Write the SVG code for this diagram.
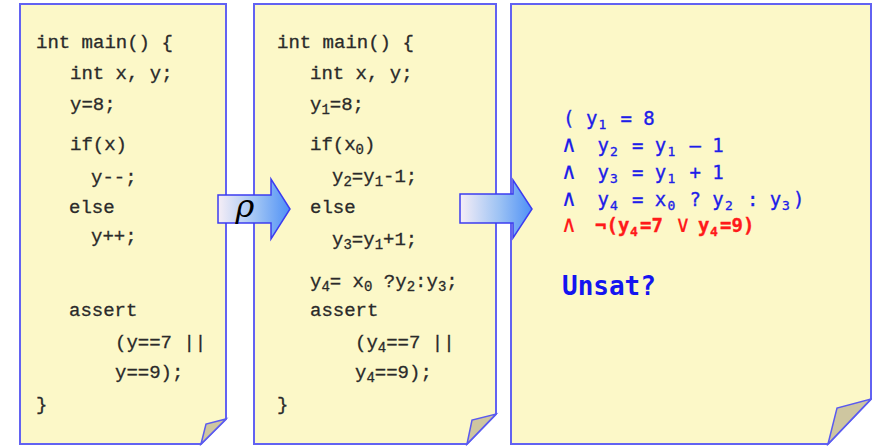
<svg xmlns="http://www.w3.org/2000/svg" width="872" height="446" viewBox="0 0 872 446">
  <style>
    .page { fill: #fcf8c8; stroke: #6262f2; stroke-width: 2; stroke-linejoin: miter; }
    .fold { fill: #cec6a0; stroke: #5a5af0; stroke-width: 1.5; stroke-linejoin: miter; }
    .code { font-family: "Liberation Mono", "DejaVu Sans Mono", monospace; font-size: 19px; fill: #2a2a2a; stroke: #2a2a2a; stroke-width: 0.3; }
    .sub { font-size: 14px; }
    .smt { font-family: "DejaVu Sans Mono", "Liberation Mono", monospace; font-size: 19px; fill: #1e1ee8; stroke: #1e1ee8; stroke-width: 0.35; }
    .s { font-size: 13px; }
    .and { font-size: 23px; stroke-width: 0.15; }
    .neg { fill: #ff1a1a; stroke: #ff1a1a; }
    .bold { font-weight: bold; }
    .unsat { font-family: "DejaVu Sans Mono", monospace; font-size: 26px; font-weight: bold; fill: #1414f0; }
    .arrow { fill: url(#arrowFill); stroke: #3c3cf0; stroke-width: 1.5; stroke-linejoin: miter; }
    .rho { font-family: "DejaVu Serif", "Liberation Serif", serif; font-style: italic; font-size: 32px; fill: #000; }
  </style>
  <defs>
    <linearGradient id="arrowFill" x1="0" y1="0" x2="1" y2="0">
      <stop offset="0" stop-color="#f6eef6"/>
      <stop offset="0.55" stop-color="#9cc2f4"/>
      <stop offset="1" stop-color="#4e90f6"/>
    </linearGradient>
  </defs>

  <!-- original C program -->
  <g id="source-program">
    <path class="page" d="M20,4 H226 V419 L201,444 H20 Z"/>
    <path class="fold" d="M201,444 L206,424 L226,419 Z"/>
    <g class="code">
      <text x="36" y="48">int main() {</text>
      <text x="70" y="79">int x, y;</text>
      <text x="70" y="110">y=8;</text>
      <text x="70" y="150">if(x)</text>
      <text x="91" y="183">y--;</text>
      <text x="69" y="213">else</text>
      <text x="91" y="242">y++;</text>
      <text x="69" y="316">assert</text>
      <text x="115" y="348">(y==7 ||</text>
      <text x="115" y="378">y==9);</text>
      <text x="36" y="410">}</text>
    </g>
  </g>

  <!-- SSA form of the program -->
  <g id="ssa-program">
    <path class="page" d="M254,4 H496 V414 L467,444 H254 Z"/>
    <path class="fold" d="M467,444 L472,420 L496,414 Z"/>
    <g class="code">
      <text x="277" y="48">int main() {</text>
      <text x="310" y="79">int x, y;</text>
      <text x="310" y="110">y<tspan class="sub" dy="4">1</tspan><tspan dy="-4">=8;</tspan></text>
      <text x="310" y="150">if(x<tspan class="sub" dy="4">0</tspan><tspan dy="-4">)</tspan></text>
      <text x="332" y="182">y<tspan class="sub" dy="4">2</tspan><tspan dy="-4">=y</tspan><tspan class="sub" dy="4">1</tspan><tspan dy="-4">-1;</tspan></text>
      <text x="310" y="213">else</text>
      <text x="332" y="245">y<tspan class="sub" dy="4">3</tspan><tspan dy="-4">=y</tspan><tspan class="sub" dy="4">1</tspan><tspan dy="-4">+1;</tspan></text>
      <text x="310" y="287">y<tspan class="sub" dy="4">4</tspan><tspan dy="-4">= x</tspan><tspan class="sub" dy="4">0</tspan><tspan dy="-4"> ?y</tspan><tspan class="sub" dy="4">2</tspan><tspan dy="-4">:y</tspan><tspan class="sub" dy="4">3</tspan><tspan dy="-4">;</tspan></text>
      <text x="310" y="316">assert</text>
      <text x="355" y="348">(y<tspan class="sub" dy="4">4</tspan><tspan dy="-4">==7 ||</tspan></text>
      <text x="355" y="378">y<tspan class="sub" dy="4">4</tspan><tspan dy="-4">==9);</tspan></text>
      <text x="277" y="410">}</text>
    </g>
  </g>

  <!-- verification condition: one monospace cell = 11.5px -->
  <g id="formula">
    <path class="page" d="M511,4 H871 V399 L828,444 H511 Z"/>
    <path class="fold" d="M828,444 L837,408 L871,399 Z"/>
    <text class="smt" y="125" xml:space="preserve"><tspan x="563">( y</tspan><tspan class="s" x="598.5" dy="4">1</tspan><tspan x="609" dy="-4"> = 8</tspan></text>
    <text class="smt" y="152" xml:space="preserve"><tspan class="and" x="562">∧</tspan><tspan x="597.5">y</tspan><tspan class="s" x="610" dy="4">2</tspan><tspan x="620.5" dy="-4"> = y</tspan><tspan class="s" x="667.5" dy="4">1</tspan><tspan x="678" dy="-4"> – 1</tspan></text>
    <text class="smt" y="179" xml:space="preserve"><tspan class="and" x="562">∧</tspan><tspan x="597.5">y</tspan><tspan class="s" x="610" dy="4">3</tspan><tspan x="620.5" dy="-4"> = y</tspan><tspan class="s" x="667.5" dy="4">1</tspan><tspan x="678" dy="-4"> + 1</tspan></text>
    <text class="smt" y="206" xml:space="preserve"><tspan class="and" x="562">∧</tspan><tspan x="597.5">y</tspan><tspan class="s" x="610" dy="4">4</tspan><tspan x="620.5" dy="-4"> = x</tspan><tspan class="s" x="667.5" dy="4">0</tspan><tspan x="678" dy="-4"> ? y</tspan><tspan class="s" x="725" dy="4">2</tspan><tspan x="735.5" dy="-4"> : y</tspan><tspan class="s" x="782" dy="4">3</tspan><tspan x="793" dy="-4">)</tspan></text>
    <text class="smt neg" y="232" xml:space="preserve"><tspan class="and" x="562">∧</tspan><tspan class="bold" x="595">¬(y</tspan><tspan class="s bold" x="630" dy="4">4</tspan><tspan class="bold" x="640" dy="-4">=7 </tspan><tspan class="and" x="676">∨</tspan><tspan class="bold" x="698">y</tspan><tspan class="s bold" x="710" dy="4">4</tspan><tspan class="bold" x="720" dy="-4">=9)</tspan></text>
    <text class="unsat" x="562" y="295">Unsat?</text>
  </g>

  <!-- transformation arrows -->
  <g id="connectors">
    <g id="arrow-rho">
      <path class="arrow" d="M218,195 H271 V179 L290,209 L271,239 V223 H218 Z"/>
      <text class="rho" x="245" y="217" text-anchor="middle">ρ</text>
    </g>
    <g id="arrow-formula">
      <path class="arrow" d="M460,194 H513 V180 L532,209 L513,238 V223 H460 Z"/>
    </g>
  </g>
</svg>
